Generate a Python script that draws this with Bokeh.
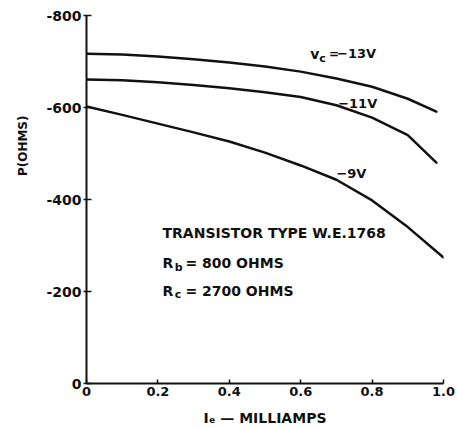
import math
from bokeh.plotting import figure
from bokeh.models import Range1d, FixedTicker, Label, Title
from bokeh.embed import file_html
from bokeh.resources import INLINE

# ---- data ----
x_13 = [0.0, 0.1, 0.2, 0.3, 0.4, 0.5, 0.6, 0.7, 0.8, 0.9, 0.98]
y_13 = [-717, -715, -711, -705, -698, -689, -678, -663, -645, -619, -591]
x_11 = [0.0, 0.1, 0.2, 0.3, 0.4, 0.5, 0.6, 0.7, 0.8, 0.9, 0.98]
y_11 = [-661, -659, -655, -649, -642, -633, -623, -605, -578, -540, -480]
x_9 = [0.0, 0.1, 0.2, 0.3, 0.4, 0.5, 0.6, 0.7, 0.8, 0.9, 1.0]
y_9 = [-602, -584, -565, -546, -526, -502, -474, -443, -398, -340, -274]
x_ticks = [0, 0.2, 0.4, 0.6, 0.8, 1.0]
x_tick_labels = ["0", "0.2", "0.4", "0.6", "0.8", "1.0"]
y_ticks = [0, -200, -400, -600, -800]
y_tick_labels = ["0", "-200", "-400", "-600", "-800"]

FONT = "DejaVu Sans"
INK = "#111111"

p = figure(width=455, height=428, output_backend="svg", toolbar_location=None,
           x_range=Range1d(0, 1.0), y_range=Range1d(0, -800),
           min_border_left=86, min_border_right=12, min_border_top=15, min_border_bottom=45)
p.outline_line_color = None
p.xgrid.visible = False
p.ygrid.visible = False
p.background_fill_color = "white"
p.border_fill_color = "white"

for ax in (p.xaxis[0], p.yaxis[0]):
    ax.axis_line_width = 2
    ax.axis_line_color = INK
    ax.major_tick_line_color = INK
    ax.major_tick_line_width = 1.5
    ax.minor_tick_line_color = None
    ax.major_label_text_font = FONT
    ax.major_label_text_font_style = "bold"
    ax.major_label_text_color = INK

p.xaxis.ticker = FixedTicker(ticks=x_ticks)
p.xaxis.major_label_overrides = {t: l for t, l in zip(x_ticks, x_tick_labels)}
p.xaxis.major_label_text_font_size = "13px"
p.xaxis.major_tick_in = 4
p.xaxis.major_tick_out = 0
p.xaxis.major_label_standoff = 3
p.xaxis.axis_label = "I\u2091 \u2014 MILLIAMPS"
p.xaxis.axis_label_text_font = FONT
p.xaxis.axis_label_text_font_style = "bold"
p.xaxis.axis_label_text_font_size = "14px"
p.xaxis.axis_label_text_color = INK
p.xaxis.axis_label_standoff = 11

p.yaxis.ticker = FixedTicker(ticks=y_ticks)
p.yaxis.major_label_overrides = {t: l for t, l in zip(y_ticks, y_tick_labels)}
p.yaxis.major_label_text_font_size = "14px"
p.yaxis.major_tick_in = 5
p.yaxis.major_tick_out = 3
p.yaxis.major_label_standoff = 2

# y-axis title, placed along the upper part of the axis as in the reference
p.add_layout(Title(text="P(OHMS)", align="right", offset=100, standoff=27,
                   text_font=FONT, text_font_style="bold", text_font_size="12px",
                   text_color=INK), "left")

for xs, ys in ((x_13, y_13), (x_11, y_11), (x_9, y_9)):
    p.line(xs, ys, line_color=INK, line_width=2.5, line_join="round", line_cap="round")

def lab(x, y, text, size="13px", style="bold", align="left", baseline="middle", angle=0.0):
    p.add_layout(Label(x=x, y=y, text=text, text_font=FONT, text_font_style=style,
                       text_font_size=size, text_color=INK, text_align=align,
                       text_baseline=baseline, angle=angle))

# curve labels
lab(0.627, -717, "v", size="14px")
lab(0.652, -706, "c", size="11px")
lab(0.679, -717, "=", size="12px")
lab(0.702, -717, "\u221213V", size="13px")
lab(0.705, -608, "\u221211V", size="13px")
lab(0.70, -457, "\u22129V", size="13px")

# info block
lab(0.213, -328, "TRANSISTOR TYPE W.E.1768", size="14px")
lab(0.213, -261, "R", size="14px")
lab(0.247, -252, "b", size="11px")
lab(0.277, -261, "= 800 OHMS", size="14px")
lab(0.213, -202, "R", size="14px")
lab(0.247, -193, "c", size="11px")
lab(0.277, -202, "= 2700 OHMS", size="14px")

open("out.html", "w").write(file_html(p, INLINE))
